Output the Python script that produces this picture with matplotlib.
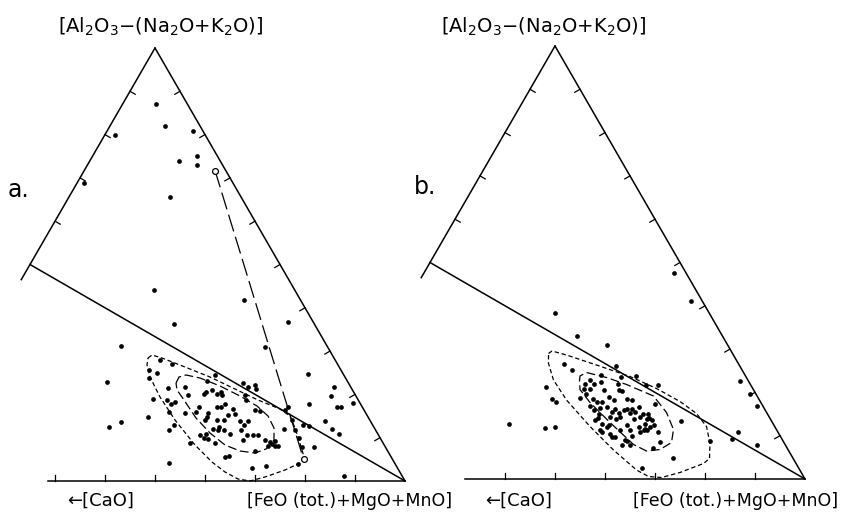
import numpy as np
import matplotlib
matplotlib.use('Agg')
import matplotlib.pyplot as plt

plt.rcParams['font.family'] = ['DejaVu Sans']
plt.rcParams['mathtext.default'] = 'regular'

# triangle plane: side = 100, CaO corner at (0,0), FeO+MgO+MnO corner at (100,0)
H = 100 * np.sqrt(3) / 2

top_label = r'[Al$_2$O$_3$$-$(Na$_2$O+K$_2$O)]'
cao_label = u'\u2190[CaO]'
fem_label = '[FeO (tot.)+MgO+MnO]'

# ---- panel a ----
a_x = [50.1, 51.9, 57.5, 42.0, 54.8, 58.3, 58.4, 53.0, 35.7, 49.7, 67.8, 53.8, 76.6, 43.2,
       71.9, 40.4, 80.6, 85.8, 85.1, 89.5, 86.3, 87.1, 80.7, 84.0, 85.3, 86.7, 81.7, 87.7,
       40.7, 43.1, 52.7, 48.5, 49.5, 56.9, 69.3, 72.2, 64.8, 63.9, 79.5, 80.7, 78.8, 79.4,
       75.9, 76.5, 77.4, 75.8, 51.0, 53.3, 48.8, 50.3, 48.8, 62.0, 56.0, 52.5, 60.3, 60.1,
       59.7, 61.3, 62.3, 63.2, 63.3, 56.5, 52.3, 53.2, 53.9, 63.9, 58.7, 60.5, 60.3, 62.3,
       63.2, 58.2, 52.7, 55.9, 62.3, 63.7, 64.5, 60.0, 53.7, 52.7, 61.5, 62.7, 62.5, 63.7,
       59.0, 59.7, 60.5, 60.1, 62.0, 67.5, 68.5, 70.0, 70.1, 68.0, 68.1, 65.5, 65.9, 69.9,
       71.0, 67.0, 68.5, 67.7, 67.2, 77.9, 65.0, 68.3, 69.5, 70.5, 67.5, 72.0, 73.0, 74.0,
       72.5, 73.9, 74.5, 73.3, 70.0, 78.5]
a_y = [75.5, 71.0, 70.1, 69.3, 64.1, 65.1, 63.3, 56.8, 59.7, 38.3, 36.3, 31.4, 31.9, 27.1,
       26.9, 19.9, 21.4, 18.9, 17.1, 15.6, 14.8, 14.9, 15.5, 12.1, 10.4, 9.4, 6.9, 1.0,
       10.9, 11.8, 3.7, 12.8, 16.5, 7.7, 2.6, 3.1, 5.0, 4.9, 11.3, 11.1, 8.6, 6.9,
       14.3, 14.9, 12.2, 10.5, 24.3, 23.5, 22.3, 21.7, 20.7, 21.2, 18.9, 18.7, 20.1, 17.9,
       17.4, 18.2, 17.4, 17.9, 17.3, 17.3, 16.3, 15.5, 15.9, 15.5, 14.9, 13.7, 12.9, 14.9,
       14.9, 13.9, 13.9, 13.7, 12.2, 12.3, 13.2, 12.2, 11.2, 10.2, 10.5, 10.9, 10.2, 10.3,
       9.3, 8.7, 8.5, 9.5, 7.7, 19.7, 18.9, 19.3, 18.5, 17.2, 16.3, 14.5, 13.5, 14.2,
       14.1, 12.0, 12.0, 11.2, 10.3, 10.2, 9.5, 9.3, 9.3, 9.2, 8.3, 8.3, 7.9, 8.0,
       7.0, 7.0, 7.0, 7.4, 6.1, 3.5]
a_open_x = [62.0, 79.7]
a_open_y = [62.1, 4.4]
a_outer_x = [48.6, 49.4, 51.4, 56.0, 61.0, 66.0, 70.6, 75.0, 77.0, 78.0, 78.8, 79.4, 79.8,
             79.0, 76.0, 72.0, 69.0, 66.6, 64.0, 61.4, 58.0, 54.0, 51.0, 49.0, 48.4, 48.6]
a_outer_y = [24.6, 25.2, 24.6, 22.8, 20.8, 18.4, 16.2, 14.4, 13.0, 10.6, 8.2, 6.2, 4.8,
             3.6, 2.2, 0.8, 0.0, 0.4, 1.8, 3.8, 7.2, 12.2, 16.8, 20.8, 23.2, 24.6]
a_inner_x = [54.2, 54.8, 56.2, 59.0, 63.0, 67.0, 70.4, 72.6, 73.8, 73.8, 72.2, 70.0, 67.0,
             64.0, 61.0, 58.2, 55.8, 54.4, 54.2]
a_inner_y = [19.6, 20.8, 21.2, 20.6, 19.0, 17.0, 15.0, 13.0, 10.6, 8.2, 6.4, 5.6, 6.0,
             7.2, 9.6, 12.6, 16.2, 18.2, 19.6]

# ---- panel b ----
b_x = [73.8, 77.1, 49.9, 54.4, 60.3, 62.1, 51.7, 53.4, 66.1, 68.2, 70.6, 86.9, 89.0, 90.3,
       48.1, 49.3, 50.2, 40.7, 47.9, 49.9, 54.9, 69.9, 75.1, 80.9, 85.4, 86.5, 90.3, 70.6,
       70.9, 64.3, 69.5, 73.5, 67.4, 61.3,
       59.1, 63.1, 57.0, 56.0, 57.7, 57.0, 55.7, 56.2, 59.1, 59.7, 62.5, 62.7, 63.3, 57.5,
       58.3, 59.3, 60.7, 61.7, 64.3, 65.3, 56.9, 57.7, 58.9, 60.3, 61.3, 62.0, 61.0, 62.7,
       63.0, 62.2, 63.7, 64.3, 65.0, 65.3, 66.0, 66.7, 67.0, 65.7, 67.5, 68.3, 68.0, 66.7,
       67.0, 68.3, 58.5, 59.3, 60.3, 59.0, 61.0, 62.0, 63.0, 64.3, 65.0, 65.3, 64.0, 63.3,
       65.0, 68.7, 69.3, 69.7, 69.0, 68.0, 68.5, 67.7, 58.7, 58.0, 59.3, 60.7]
b_y = [41.3, 35.7, 33.3, 28.7, 26.9, 22.6, 23.0, 21.8, 20.7, 18.9, 18.9, 19.7, 17.1, 14.7,
       18.4, 16.1, 15.5, 11.1, 10.3, 10.5, 16.2, 15.1, 11.7, 7.7, 8.0, 9.5, 6.8, 9.5,
       7.5, 7.7, 6.3, 4.3, 2.3, 8.5,
       20.8, 20.5, 19.8, 19.1, 19.0, 18.1, 18.1, 17.1, 19.5, 17.8, 19.0, 17.8, 17.7, 16.1,
       15.5, 15.5, 16.5, 15.8, 16.1, 15.9, 14.6, 13.8, 14.3, 14.5, 13.5, 14.1, 12.5, 13.3,
       12.5, 12.1, 13.8, 14.1, 13.3, 14.1, 13.5, 14.5, 12.5, 12.1, 13.1, 12.1, 11.1, 10.5,
       9.5, 9.8, 12.3, 11.1, 10.5, 9.8, 9.1, 8.5, 9.8, 10.8, 9.8, 8.6, 7.8, 6.8,
       6.8, 12.3, 11.8, 10.8, 10.5, 10.1, 13.1, 9.8, 13.1, 11.8, 9.5, 10.8]
b_outer_x = [48.7, 49.4, 52.3, 58.3, 65.0, 70.3, 75.0, 78.3, 80.3, 81.0, 80.9, 79.7, 75.0,
             71.3, 68.7, 66.3, 61.7, 57.0, 52.3, 49.7, 48.7, 48.7]
b_outer_y = [25.1, 25.6, 24.8, 22.8, 20.5, 18.1, 15.5, 13.1, 10.5, 7.1, 4.1, 3.1, 1.3,
             0.3, 0.5, 1.8, 5.8, 10.5, 15.8, 19.8, 23.1, 25.1]
b_inner_x = [54.9, 55.0, 56.3, 60.3, 64.3, 69.7, 72.3, 73.7, 73.3, 71.0, 68.3, 65.7, 61.0,
             57.0, 55.0, 54.9]
b_inner_y = [19.6, 20.6, 21.3, 20.3, 18.9, 16.6, 13.3, 9.9, 7.3, 5.9, 5.6, 6.9, 11.3,
             15.3, 17.9, 19.6]

side_ticks = [10, 20, 30, 40, 50, 60, 70, 80, 90]
left_ticks = [60, 70, 80, 90]
a_base_ticks = [30, 40, 50, 60, 70, 80, 90]
b_base_ticks = [40, 50, 60, 70, 80, 90]

lw = 1.1
tl = 1.2


def draw_frame(ax, base_start, base_ticks):
    # right side F -> A, truncated left side A -> CaO, plagioclase tie line, base
    ax.plot([100, 50], [0, H], color='k', lw=lw)
    ax.plot([50, 46.5 / 2], [H, 46.5 * H / 100], color='k', lw=lw)
    ax.plot([25, 100], [50 * H / 100, 0], color='k', lw=lw)
    ax.plot([base_start, 100], [0, 0], color='k', lw=lw)
    for t in base_ticks:
        ax.plot([t, t], [0, tl], color='k', lw=0.9)
    for t in side_ticks:
        px, py = 100 - t / 2, t * H / 100
        ax.plot([px, px - tl * 0.866], [py, py - tl * 0.5], color='k', lw=0.9)
    for t in left_ticks:
        px, py = t / 2, t * H / 100
        ax.plot([px, px + tl * 0.866], [py, py - tl * 0.5], color='k', lw=0.9)


fig = plt.figure(figsize=(8.41, 5.12), dpi=100)
fig.patch.set_facecolor('white')

ax_a = fig.add_axes([0, 0, 420 / 841, 1])
ax_a.set_xlim(19, 103)
ax_a.set_ylim(-6.2, 96.2)
draw_frame(ax_a, 28.6, a_base_ticks)
ax_a.plot(a_outer_x, a_outer_y, color='k', lw=0.9, dashes=(3.5, 2.2))
ax_a.plot(a_inner_x, a_inner_y, color='k', lw=0.9, dashes=(7, 3))
ax_a.plot(a_open_x, a_open_y, color='k', lw=0.9, dashes=(14, 4.5))
ax_a.plot(a_x, a_y, 'o', color='k', ms=3.4, mew=0)
ax_a.plot(a_open_x, a_open_y, 'o', mfc='white', mec='k', ms=4.2, mew=0.9)
ax_a.text(51.2, 90.8, top_label, fontsize=14, ha='center', va='center')
ax_a.text(22.6, 58.2, 'a.', fontsize=17, ha='center', va='center')
ax_a.text(39.2, -4.0, cao_label, fontsize=13, ha='center', va='center')
ax_a.text(89.0, -4.0, fem_label, fontsize=12.5, ha='center', va='center')
ax_a.axis('off')

ax_b = fig.add_axes([420 / 841, 0, 421 / 841, 1])
ax_b.set_xlim(23, 107.2)
ax_b.set_ylim(-6.6, 95.8)
draw_frame(ax_b, 32.0, b_base_ticks)
ax_b.plot(b_outer_x, b_outer_y, color='k', lw=0.9, dashes=(3.5, 2.2))
ax_b.plot(b_inner_x, b_inner_y, color='k', lw=0.9, dashes=(7, 3))
ax_b.plot(b_x, b_y, 'o', color='k', ms=3.4, mew=0)
ax_b.text(47.8, 90.4, top_label, fontsize=14, ha='center', va='center')
ax_b.text(24.0, 58.4, 'b.', fontsize=17, ha='center', va='center')
ax_b.text(42.8, -4.4, cao_label, fontsize=13, ha='center', va='center')
ax_b.text(86.2, -4.4, fem_label, fontsize=12.5, ha='center', va='center')
ax_b.axis('off')

fig.savefig('out.png', dpi=100, facecolor='white')
